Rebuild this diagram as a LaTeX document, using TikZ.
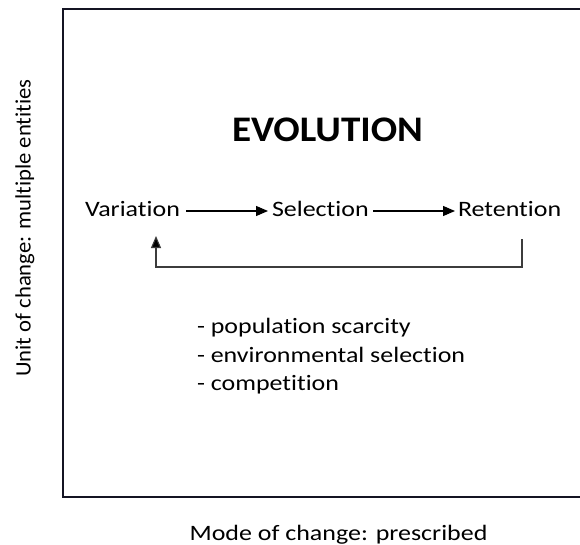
\documentclass[tikz,border=0pt]{standalone}
\usepackage{graphicx}
\usepackage{fontspec}
\setmainfont{Carlito}[Ligatures=NoCommon]
\usetikzlibrary{arrows.meta}
% horizontally widened text
\newcommand\widetext[1]{\scalebox{1.18}[1]{#1}}
\newcommand\widetitle[1]{\scalebox{1.086}[1]{#1}}
\tikzset{
  lbl/.style={inner sep=0pt, outer sep=0pt, font=\fontsize{22}{26}\selectfont},
  ttl/.style={inner sep=0pt, outer sep=0pt, font=\fontsize{36}{40}\selectfont\bfseries},
  flow/.style={draw=black, line width=1.1pt, -{Triangle[length=12pt,width=10pt]}},
  back/.style={draw={rgb,255:red,60;green,60;blue,60}, line width=1.1pt, -{Triangle[length=12pt,width=10pt,fill=black]}},
  frame/.style={draw={rgb,255:red,20;green,20;blue,35}, line width=1.6pt}
}
\begin{document}
\begin{tikzpicture}[x=1pt,y=-1pt]
\useasboundingbox[fill=white] (0,0) rectangle (580,545);
% frame: right side runs past the edge
\draw[frame] (590,9) -- (63,9) -- (63,497) -- (590,497);
% axis labels
\node[lbl, rotate=90] (unit) at (25,228) {\scalebox{1.03}[1]{Unit of change: multiple entities}};
\node[lbl, anchor=base] (mode) at (338.5,540) {\widetext{Mode of change: prescribed}};
% title
\node[ttl, anchor=base west] (evo) at (232,142) {\widetitle{EVOLUTION}};
% the cycle
\node[lbl, anchor=base west] (var) at (85,216) {\widetext{Variation}};
\node[lbl, anchor=base west] (sel) at (272,216) {\widetext{Selection}};
\node[lbl, anchor=base west] (ret) at (458,216) {\widetext{Retention}};
\coordinate (v1) at (186,211);
\coordinate (s0) at (268,211);
\coordinate (s1) at (373,211);
\coordinate (r0) at (455,211);
\draw[flow] (v1) -- (s0);
\draw[flow] (s1) -- (r0);
\coordinate (rb) at (522,239);
\coordinate (vb) at (156,236);
\draw[back] (rb) -- (522,267) -- (156,267) -- (vb);
% mechanisms
\node[lbl, anchor=base west] (m1) at (197,333) {\widetext{- population scarcity}};
\node[lbl, anchor=base west] (m2) at (197,362) {\widetext{- environmental selection}};
\node[lbl, anchor=base west] (m3) at (197,390) {\widetext{- competition}};
\end{tikzpicture}
\end{document}
